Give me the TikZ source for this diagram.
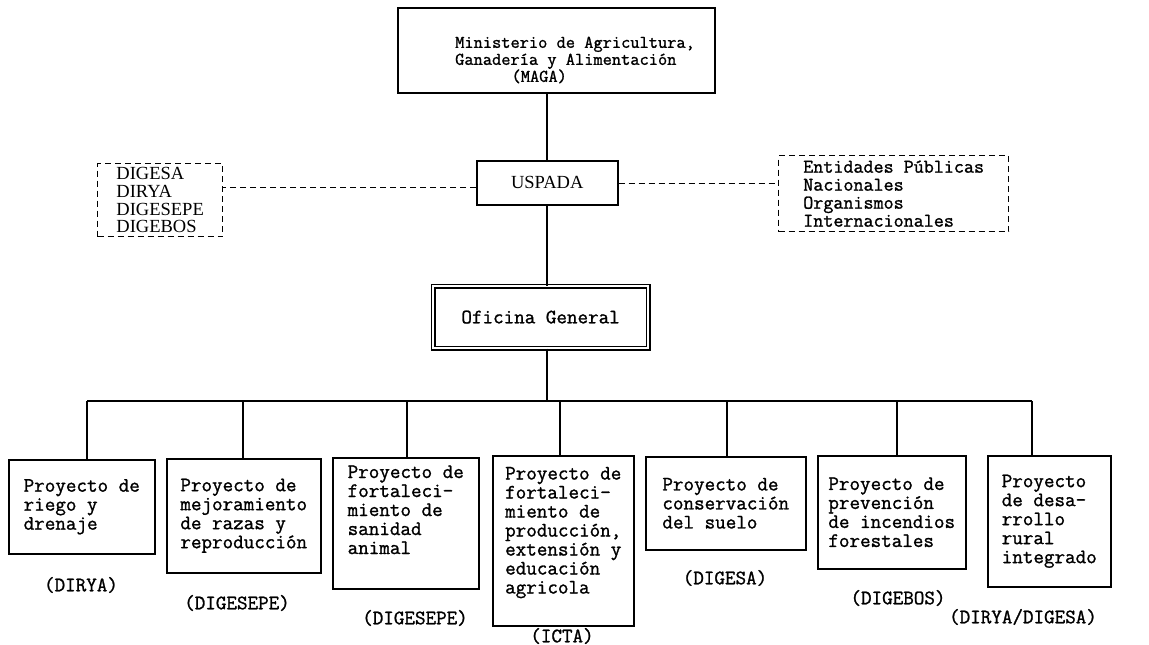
\documentclass[tikz,border=0pt]{standalone}
\usepackage{fontspec}
\setmainfont{Liberation Serif}
\newfontfamily\tw[FakeBold=1.2]{Latin Modern Mono}
\begin{document}
\begin{tikzpicture}[x=1pt,y=-1pt,
  box/.style={draw, line width=1.5pt, inner sep=0pt},
  pbox/.style={box, anchor=north west, align=left, font=\tw\fontsize{20.5}{19}\selectfont},
  lbl/.style={font=\tw\fontsize{20.5}{19}\selectfont, inner sep=0pt},
  dbox/.style={draw, line width=1.3pt, dash pattern=on 6pt off 4pt, anchor=north west, inner sep=0pt},
  conn/.style={line width=1.6pt},
  dconn/.style={line width=1.3pt, dash pattern=on 6pt off 4pt}]
\useasboundingbox (0,0) rectangle (1149,645);
\fill[white] (0,0) rectangle (1149,645);

% top box
\node[box, anchor=north west, minimum width=317pt, minimum height=85pt] (maga) at (397,7) {};
\node[font=\tw\fontsize{17.9}{17}\selectfont, align=left, anchor=west, inner sep=0pt] (magat) at (455,60)
  {Ministerio de Agricultura,\\Ganadería y Alimentación\\\hspace*{3.15em}(MAGA)};

% USPADA
\node[box, anchor=north west, font=\fontsize{18.5}{18}\selectfont, minimum width=141pt, minimum height=44pt] (uspada) at (476,160) {USPADA};

% dashed side boxes
\node[dbox, align=left, font=\fontsize{18.5}{17.8}\selectfont, minimum width=125pt, minimum height=73pt] (ldash) at (97,163)
  {DIGESA\\DIRYA\\DIGESEPE\\DIGEBOS};
\node[dbox, align=left, font=\tw\fontsize{19.5}{18}\selectfont, minimum width=230pt, minimum height=76pt] (rdash) at (778,155)
  {Entidades Públicas\\Nacionales\\Organismos\\Internacionales};

% Oficina General
\node[draw, double, double distance=2.6pt, line width=1.2pt, inner sep=0pt, anchor=north west,
  minimum width=215pt, minimum height=62pt, font=\tw\fontsize{20.5}{19}\selectfont] (ofi) at (432.5,285.5) {Oficina General};

% project boxes
\node[pbox, minimum width=146pt, minimum height=94pt]  (b1) at (8,459)   {Proyecto de\\riego y\\drenaje};
\node[pbox, minimum width=154pt, minimum height=114pt] (b2) at (166,458) {Proyecto de\\mejoramiento\\de razas y\\reproducción};
\node[pbox, minimum width=146pt, minimum height=131pt] (b3) at (332,457) {Proyecto de\\fortaleci-\\miento de\\sanidad\\animal\\[8pt]};
\node[pbox, minimum width=141pt, minimum height=170pt] (b4) at (492,455) {Proyecto de\\fortaleci-\\miento de\\producción,\\extensión y\\educación\\agricola\\[2pt]};
\node[pbox, minimum width=160pt, minimum height=93pt]  (b5) at (645,456) {Proyecto de\\conservación\\del suelo};
\node[pbox, minimum width=148pt, minimum height=113pt] (b6) at (817,455) {Proyecto de\\prevención\\de incendios\\forestales};
\node[pbox, minimum width=123pt, minimum height=131pt] (b7) at (987,455) {Proyecto\\de desa-\\rrollo\\rural\\integrado};

% labels under boxes
\node[lbl] (l1) at (81,585)   {(DIRYA)};
\node[lbl] (l2) at (237,603)  {(DIGESEPE)};
\node[lbl] (l3) at (415,618)  {(DIGESEPE)};
\node[lbl] (l4) at (562,636)  {(ICTA)};
\node[lbl] (l5) at (725,578)  {(DIGESA)};
\node[lbl] (l6) at (898,598)  {(DIGEBOS)};
\node[lbl] (l7) at (1023,617) {(DIRYA/DIGESA)};

% bus coordinates
\coordinate (d1) at (87,401);
\coordinate (d2) at (243,401);
\coordinate (d3) at (407,401);
\coordinate (d4) at (560,401);
\coordinate (d5) at (727,401);
\coordinate (d6) at (897,401);
\coordinate (d7) at (1032,401);

% connectors
\draw[conn] (maga.south -| uspada.north) -- (uspada.north);
\draw[conn] (uspada.south) -- (uspada.south |- ofi.north);
\draw[conn] (uspada.south |- ofi.south) -- (uspada.south |- d1);
\draw[conn] (d1) -- (d7);
\foreach \i in {1,...,7} {\draw[conn] (d\i) -- (d\i |- b\i.north);}

\draw[dconn] ([yshift=-5pt]uspada.west) -- ([yshift=-5pt]uspada.west -| ldash.east);
\draw[dconn] ([yshift=-1pt]uspada.east) -- ([yshift=-1pt]uspada.east -| rdash.west);
\end{tikzpicture}
\end{document}
